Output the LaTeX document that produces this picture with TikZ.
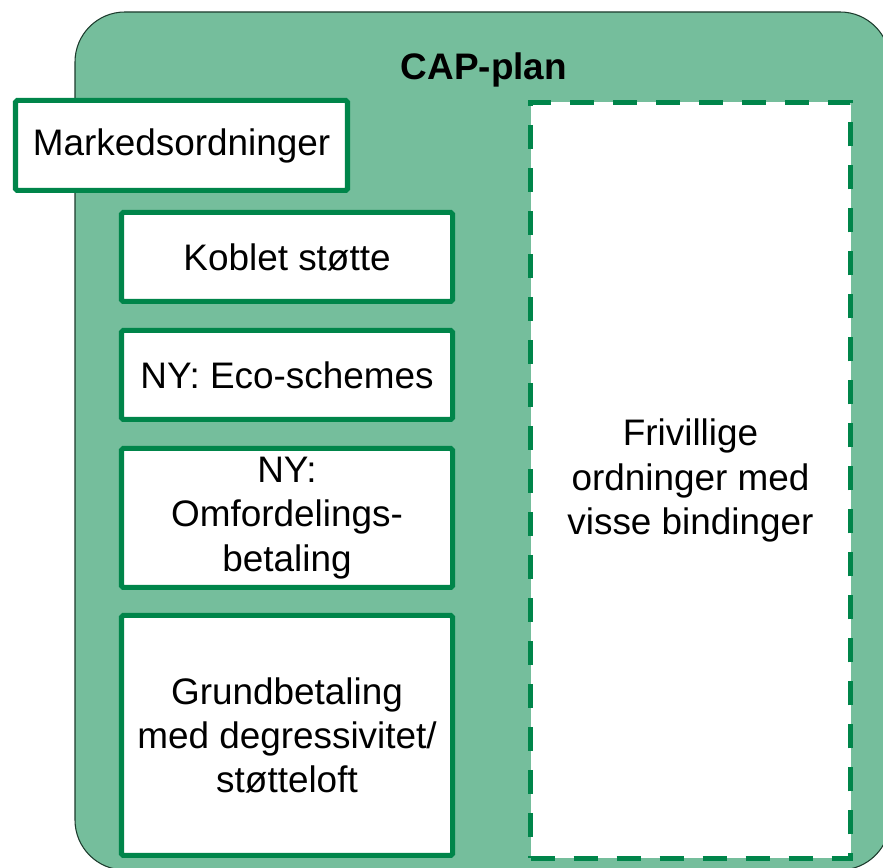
\documentclass[tikz,border=0pt]{standalone}
\usepackage{fontspec}
\setmainfont{Liberation Sans}
\definecolor{capfill}{HTML}{75BE9C}
\definecolor{capline}{HTML}{1C3A2C}
\definecolor{boxgreen}{HTML}{00854A}
\begin{document}
\begin{tikzpicture}[
					every node/.style = {font=\fontsize{21}{25.3}\selectfont, align=center},
					ordning/.style = {draw=boxgreen, line width=2.85pt, fill=white, rounded corners=1pt,
						minimum width=6.62cm, inner sep=0pt},
					frivillig/.style = {draw=boxgreen, line width=2.85pt, fill=white,
						dash pattern=on 0.48cm off 0.38cm, minimum width=6.4cm, minimum height=15.12cm, inner sep=0pt}]

					\useasboundingbox (0,0) rectangle (17.66,17.36);
					\clip (0,0) rectangle (17.66,17.36);

					\draw[capline, fill=capfill, line width=0.6pt, rounded corners=1cm] (1.5,17.12) rectangle (17.8,-0.04);
					\node[font=\fontsize{21}{25.3}\selectfont\bfseries] (cap) at (9.68,15.96) {CAP-plan};

					\node[ordning, minimum width=6.64cm, minimum height=1.8cm] (marked) at (3.63,14.45) {Markedsordninger};
					\node[ordning, minimum height=1.78cm] (koblet) at (5.74,12.22) {Koblet støtte};
					\node[ordning, minimum height=1.78cm] (eco) at (5.74,9.86) {NY: Eco-schemes};
					\node[ordning, minimum height=2.78cm] (omford) at (5.74,7.0) {NY:\\Omfordelings-\\betaling};
					\node[ordning, minimum height=4.8cm] (grund) at (5.74,2.65) {Grundbetaling\\med degressivitet/\\støtteloft};

					\node[frivillig] (friv) at (13.81,7.75) {Frivillige\\ordninger med\\visse bindinger};

				\end{tikzpicture}
\end{document}
